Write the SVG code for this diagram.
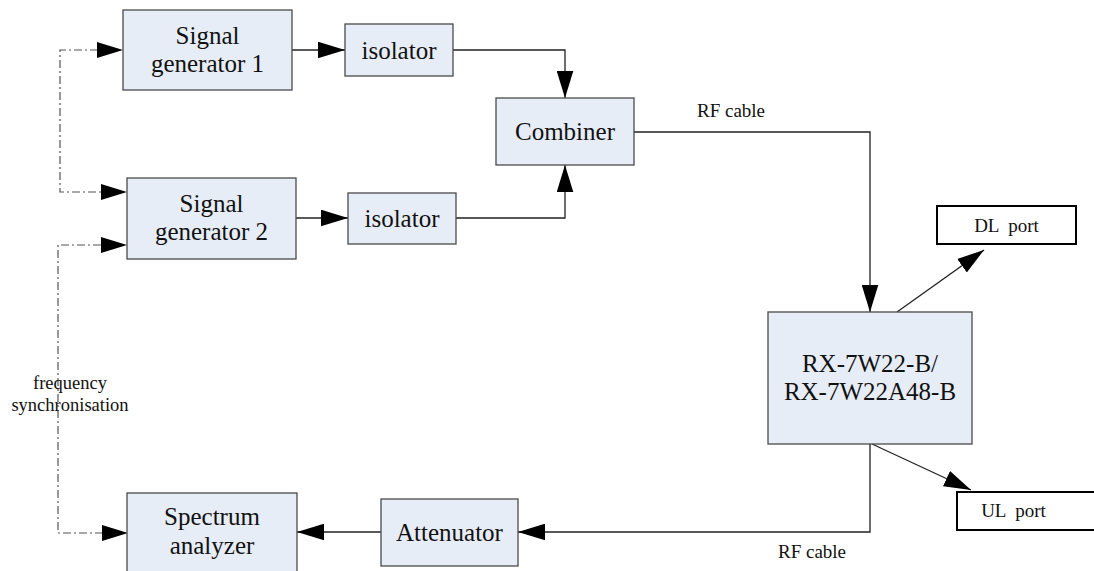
<svg xmlns="http://www.w3.org/2000/svg" width="1094" height="571" viewBox="0 0 1094 571" font-family="'Liberation Serif', 'Times New Roman', 'DejaVu Serif', serif">
<style>
.box{fill:#e7edf7;stroke:#4a4a4a;stroke-width:1.3}
.port{fill:#ffffff;stroke:#000;stroke-width:2}
text{font-family:'Liberation Serif','Times New Roman','DejaVu Serif',serif}
.t{font-size:25px;fill:#111;text-anchor:middle}
.s{font-size:19px;fill:#111;text-anchor:middle;white-space:pre}
.f{font-size:18.5px}
.ln{fill:none;stroke:#222;stroke-width:1.3}
.dd{fill:none;stroke:#555;stroke-width:1.2;stroke-dasharray:8 3 2 3}
</style>
<defs>
<marker id="ah" markerUnits="userSpaceOnUse" markerWidth="27" markerHeight="17" viewBox="0 0 26 16" refX="26" refY="8" orient="auto">
<path d="M0,0 L26,8 L0,16 Z" fill="#000"/>
</marker>
</defs>
<rect width="1094" height="571" fill="#fff"/>
<g id="connectors">
<path class="ln" d="M292,50 H345" marker-end="url(#ah)"/>
<path class="ln" d="M296,218 H348" marker-end="url(#ah)"/>
<path class="ln" d="M453,50 H565 V98" marker-end="url(#ah)"/>
<path class="ln" d="M456,218 H565 V165" marker-end="url(#ah)"/>
<path class="ln" d="M634,132 H870 V312" marker-end="url(#ah)"/>
<path class="ln" d="M897,312 L984,250" marker-end="url(#ah)"/>
<path class="ln" d="M872,444 L971,490" marker-end="url(#ah)"/>
<path class="ln" d="M870,444 V532 H518" marker-end="url(#ah)"/>
<path class="ln" d="M381,532 H297" marker-end="url(#ah)"/>
<path class="dd" d="M98,50 H60 V192 H101"/>
<path d="M97,42 L123,50 L97,58 Z" fill="#000"/>
<path d="M101,184 L127,192 L101,200 Z" fill="#000"/>
<path class="dd" d="M101,245 H58 V533 H102"/>
<path d="M101,237 L127,245 L101,253 Z" fill="#000"/>
<path d="M102,525 L128,533 L102,541 Z" fill="#000"/>
<text class="s" x="731" y="117">RF cable</text>
<text class="s" x="812" y="558">RF cable</text>
<text class="s f" x="70" y="389">frequency</text>
<text class="s f" x="70" y="411">synchronisation</text>
</g>
<g id="sg1">
<rect class="box" x="123" y="10" width="169" height="80"/>
<text class="t" x="207.5" y="44">Signal</text>
<text class="t" x="207.5" y="72">generator 1</text>
</g>
<g id="sg2">
<rect class="box" x="127" y="178" width="169" height="81"/>
<text class="t" x="211.5" y="212">Signal</text>
<text class="t" x="211.5" y="240">generator 2</text>
</g>
<g id="iso1">
<rect class="box" x="345" y="24" width="108" height="52"/>
<text class="t" x="399" y="59">isolator</text>
</g>
<g id="iso2">
<rect class="box" x="348" y="193" width="108" height="51"/>
<text class="t" x="402" y="227">isolator</text>
</g>
<g id="combiner">
<rect class="box" x="496" y="98" width="138" height="67"/>
<text class="t" x="565" y="140">Combiner</text>
</g>
<g id="rx">
<rect class="box" x="768" y="312" width="204" height="132"/>
<text class="t" x="870" y="372">RX-7W22-B/</text>
<text class="t" x="870" y="400">RX-7W22A48-B</text>
</g>
<g id="dl">
<rect class="port" x="937" y="206" width="139" height="38"/>
<text class="s" x="1006.5" y="232">DL  port</text>
</g>
<g id="ul">
<rect class="port" x="957" y="492" width="160" height="38"/>
<text class="s" x="1013.5" y="517">UL  port</text>
</g>
<g id="attenuator">
<rect class="box" x="381" y="499" width="137" height="67"/>
<text class="t" x="449.5" y="541">Attenuator</text>
</g>
<g id="spectrum">
<rect class="box" x="127" y="493" width="170" height="90"/>
<text class="t" x="212" y="525">Spectrum</text>
<text class="t" x="212" y="554">analyzer</text>
</g>
</svg>
